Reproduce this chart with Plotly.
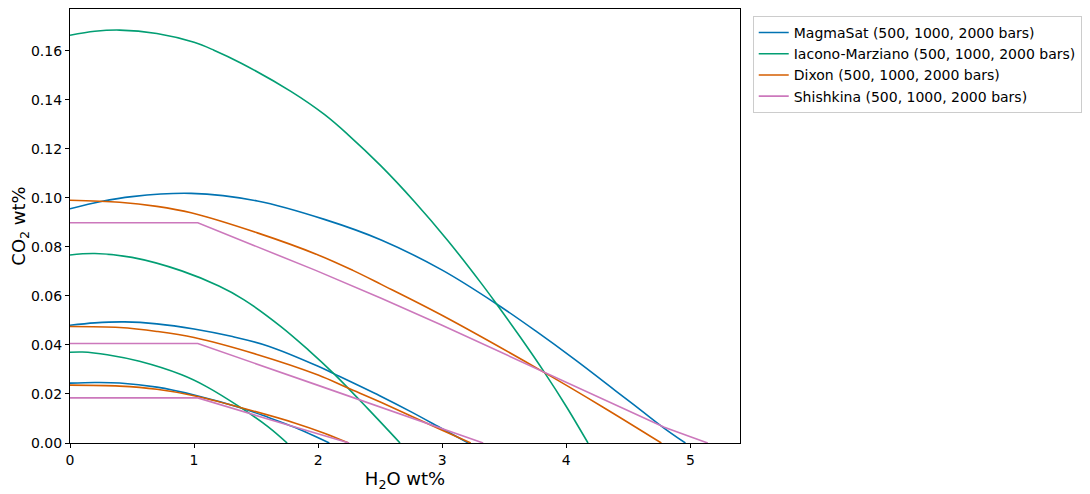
import plotly.graph_objects as go

# ---------------- data ----------------
magmasat_500_x = [0, 0.2, 0.4, 0.7, 1.0, 1.38, 1.6, 1.81, 2.09]
magmasat_500_y = [0.0244, 0.0247, 0.0245, 0.0228, 0.0196, 0.0143, 0.0104, 0.0064, 0.0]
magmasat_1000_x = [0, 0.2, 0.44, 0.7, 1.0, 1.3, 1.6, 2.0, 2.13, 2.5, 2.75, 3.0, 3.21]
magmasat_1000_y = [0.0480, 0.0490, 0.0494, 0.0486, 0.0465, 0.0435, 0.0395, 0.0313, 0.0282, 0.0192, 0.0127, 0.0058, 0.0]
magmasat_2000_x = [0, 0.25, 0.5, 0.976, 1.51, 2.05, 2.508, 3.0, 3.435, 3.75, 4.07, 4.4, 4.6, 4.79, 4.96]
magmasat_2000_y = [0.0955, 0.0985, 0.1005, 0.1018, 0.0987, 0.0912, 0.0828, 0.0705, 0.0568, 0.0458, 0.0340, 0.0212, 0.0134, 0.0060, 0.0]

iacono_500_x = [0, 0.1, 0.3, 0.56, 0.9, 1.1, 1.38, 1.6, 1.75]
iacono_500_y = [0.0370, 0.0371, 0.0360, 0.0333, 0.0278, 0.0230, 0.0143, 0.0065, 0.0]
iacono_1000_x = [0, 0.2, 0.5, 0.9, 1.2, 1.4, 1.7, 1.92, 2.13, 2.4, 2.66]
iacono_1000_y = [0.0767, 0.0773, 0.0757, 0.0702, 0.0640, 0.0585, 0.0475, 0.0380, 0.0281, 0.0140, 0.0]
iacono_2000_x = [0, 0.2, 0.4, 0.7, 1.0, 1.16, 1.38, 1.78, 2.05, 2.24, 2.508, 2.777, 3.046,
                 3.315, 3.435, 3.63, 3.825, 4.0, 4.175]
iacono_2000_y = [0.1663, 0.1679, 0.1684, 0.1670, 0.1634, 0.1602, 0.1549, 0.1434, 0.1340, 0.1258, 0.1129, 0.0984, 0.0825,
                 0.0651, 0.0569, 0.0431, 0.0287, 0.0149, 0.0]

dixon_500_x = [0, 0.4, 0.7, 1.0, 1.38, 1.81, 2.05, 2.245]
dixon_500_y = [0.0236, 0.0232, 0.0219, 0.0193, 0.0144, 0.0082, 0.0040, 0.0]
dixon_1000_x = [0, 0.4, 0.7, 1.0, 1.5, 2.0, 2.24, 2.51, 3.0, 3.23]
dixon_1000_y = [0.0475, 0.0471, 0.0455, 0.0430, 0.0362, 0.0277, 0.0224, 0.0165, 0.0052, 0.0]
dixon_2000_x = [0, 0.4, 0.7, 0.976, 1.51, 2.0, 2.28, 2.508, 2.99, 3.825, 4.3, 4.766]
dixon_2000_y = [0.0990, 0.0982, 0.0965, 0.0939, 0.0857, 0.0767, 0.0704, 0.0647, 0.0523, 0.0287, 0.0145, 0.0]

shishkina_500_x = [0, 1.03, 1.6, 2.25]
shishkina_500_y = [0.0184, 0.0184, 0.0097, 0.0]
shishkina_1000_x = [0, 1.03, 2.0, 3.0, 3.33]
shishkina_1000_y = [0.0406, 0.0406, 0.0235, 0.0058, 0.0]
shishkina_2000_x = [0, 1.03, 1.98, 2.508, 2.99, 3.825, 4.79, 5.0, 5.14]
shishkina_2000_y = [0.0898, 0.0898, 0.0704, 0.0590, 0.0482, 0.0287, 0.0064, 0.0025, 0.0]

model_names = ["MagmaSat (500, 1000, 2000 bars)",
               "Iacono-Marziano (500, 1000, 2000 bars)",
               "Dixon (500, 1000, 2000 bars)",
               "Shishkina (500, 1000, 2000 bars)"]
model_colors = ["#0173B2", "#029E73", "#D55E00", "#CC78BC"]
model_curves = [
    [(magmasat_500_x, magmasat_500_y), (magmasat_1000_x, magmasat_1000_y), (magmasat_2000_x, magmasat_2000_y)],
    [(iacono_500_x, iacono_500_y), (iacono_1000_x, iacono_1000_y), (iacono_2000_x, iacono_2000_y)],
    [(dixon_500_x, dixon_500_y), (dixon_1000_x, dixon_1000_y), (dixon_2000_x, dixon_2000_y)],
    [(shishkina_500_x, shishkina_500_y), (shishkina_1000_x, shishkina_1000_y), (shishkina_2000_x, shishkina_2000_y)],
]
model_shapes = ["spline", "spline", "spline", "linear"]

fig = go.Figure()
for name, color, curves, shape in zip(model_names, model_colors, model_curves, model_shapes):
    for i, (xs, ys) in enumerate(curves):
        line = dict(color=color, width=1.6, shape=shape)
        if shape == "spline":
            line["smoothing"] = 1.0
        fig.add_trace(go.Scatter(
            x=xs, y=ys, mode="lines", name=name, legendgroup=name,
            showlegend=(i == 0), line=line,
        ))

axis_common = dict(showline=True, linecolor="black", linewidth=1.2, mirror=True,
                   ticks="outside", ticklen=4, tickcolor="black", tickwidth=1,
                   showgrid=False, zeroline=False,
                   tickfont=dict(family="DejaVu Sans", size=14, color="black"))

fig.update_layout(
    width=1083, height=487,
    margin=dict(l=62, r=351, t=1, b=52),
    paper_bgcolor="white", plot_bgcolor="white",
    font=dict(family="DejaVu Sans", color="black"),
    xaxis=dict(range=[0, 5.4], dtick=1, tick0=0,
               title=dict(text="H<sub>2</sub>O wt%", font=dict(size=18), standoff=4),
               **axis_common),
    yaxis=dict(range=[0, 0.177], dtick=0.02, tick0=0, tickformat=".2f",
               title=dict(text="CO<sub>2</sub> wt%", font=dict(size=18), standoff=4),
               **axis_common),
    legend=dict(x=1.019, y=0.984, xanchor="left", yanchor="top",
                bordercolor="#cccccc", borderwidth=1, bgcolor="white",
                font=dict(family="DejaVu Sans", size=14, color="black"),
                tracegroupgap=0, itemwidth=30),
)

fig.write_html("out.html")
